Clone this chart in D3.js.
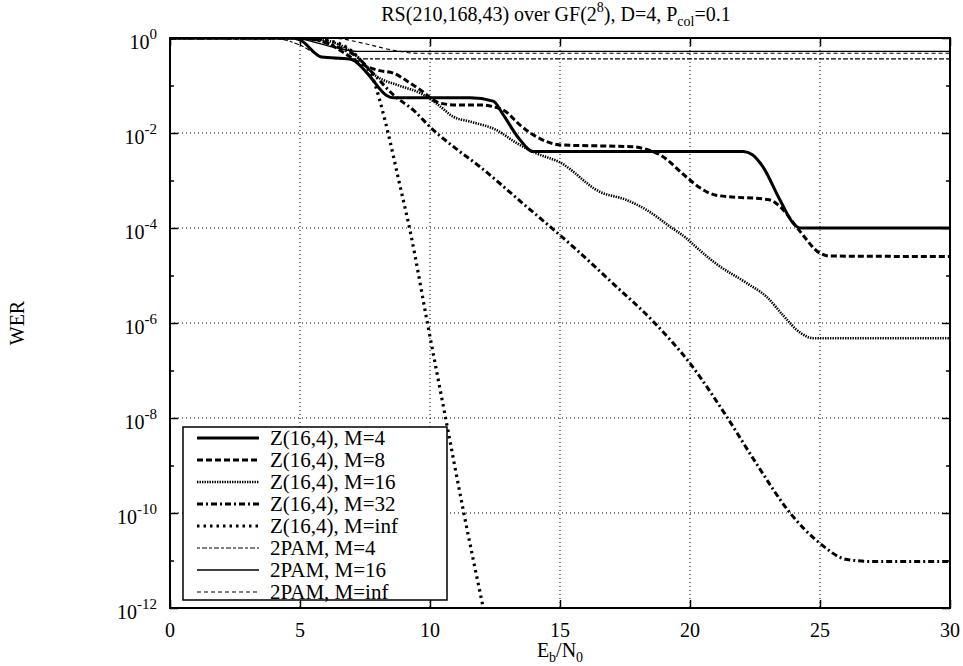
<!DOCTYPE html>
<html>
<head>
<meta charset="utf-8">
<script src="https://cdn.jsdelivr.net/npm/d3@7"></script>
<style>
  body { margin: 0; background: #fff; }
  svg text { font-family: "Liberation Serif", "DejaVu Serif", serif; fill: #000; }
</style>
</head>
<body>
<script>
// tick values
var xTicks = [0, 5, 10, 15, 20, 25, 30];
var yMajor = [1, 1e-2, 1e-4, 1e-6, 1e-8, 1e-10, 1e-12];
var yMajorExp = ["0", "-2", "-4", "-6", "-8", "-10", "-12"];
var yMinor = [1e-1, 1e-3, 1e-5, 1e-7, 1e-9, 1e-11];

// Z(16,4), M=4
var z4X = [0, 4.7, 5, 5.83, 6.9, 7.1, 7.6, 8.33, 8.6, 11.54, 12.43, 12.8, 13.4, 13.97, 22.05, 22.4, 22.8, 23.46, 23.97, 24.23, 30];
var z4Y = [1, 1, 0.912, 0.398, 0.363, 0.331, 0.178, 0.0617, 0.055, 0.055, 0.0468, 0.0251, 0.00794, 0.00407, 0.00407, 0.00347, 0.00195, 3.89e-4, 1.26e-4, 1e-4, 1e-4];
// Z(16,4), M=8
var z8X = [0, 5, 6, 6.8, 7.31, 8, 8.59, 9.1, 9.62, 10.38, 11, 11.92, 12.82, 13.5, 14.1, 15, 17.8, 18.3, 18.85, 19.87, 20.4, 21, 23.08, 23.46, 24.2, 25, 25.38, 30];
var z8Y = [1, 1, 0.794, 0.447, 0.295, 0.209, 0.182, 0.126, 0.0813, 0.0427, 0.0389, 0.0389, 0.0302, 0.0141, 0.00832, 0.00562, 0.00513, 0.00457, 0.00347, 0.00117, 6.92e-4, 4.9e-4, 3.89e-4, 2.82e-4, 8.91e-5, 2.95e-5, 2.57e-5, 2.51e-5];
// Z(16,4), M=16
var z16X = [0, 5, 6, 7, 7.95, 8.8, 9.62, 10.3, 10.9, 11.54, 12.56, 13.3, 14.1, 15, 16.54, 17.56, 18.33, 19.23, 19.87, 20.13, 21, 22.18, 22.95, 23.6, 24.23, 24.74, 30];
var z16Y = [1, 1, 0.891, 0.501, 0.155, 0.1, 0.0692, 0.0398, 0.0219, 0.0174, 0.0115, 0.00631, 0.00372, 0.0024, 5.75e-4, 3.89e-4, 2.4e-4, 1.07e-4, 6.03e-5, 4.47e-5, 1.78e-5, 6.92e-6, 3.55e-6, 1.41e-6, 6.31e-7, 4.79e-7, 4.79e-7];
// Z(16,4), M=32
var z32X = [0, 5, 5.5, 6.5, 7.2, 7.8, 8.6, 9.36, 10.13, 11, 11.92, 13.5, 15.64, 17, 18.59, 20, 21.41, 22.6, 23.85, 25, 26.03, 27, 30];
var z32Y = [1, 1, 0.933, 0.631, 0.398, 0.182, 0.0631, 0.0302, 0.0115, 0.00468, 0.00195, 3.55e-4, 3.47e-5, 7.08e-6, 1.07e-6, 1.41e-7, 1.07e-8, 1e-9, 1e-10, 2.29e-11, 1.05e-11, 9.55e-12, 9.55e-12];
// Z(16,4), M=inf
var zInfX = [0, 5, 6, 6.8, 7.3, 7.8, 8.3, 8.8, 9.25, 9.9, 10.6, 11.3, 12.05];
var zInfY = [1, 1, 0.891, 0.631, 0.355, 0.141, 0.0158, 0.001, 7.94e-5, 1e-6, 1e-8, 1e-10, 1e-12];
// 2PAM
var p4X = [0, 3.5, 4.2, 5, 5.8, 6.5, 30];
var p4Y = [1, 1, 0.955, 0.708, 0.417, 0.363, 0.363];
var p16X = [0, 4.8, 5.5, 6.5, 7.2, 30];
var p16Y = [1, 1, 0.832, 0.603, 0.525, 0.525];
var pInfX = [0, 6, 6.6, 7.5, 8.6, 9.5, 30];
var pInfY = [1, 1, 0.955, 0.759, 0.55, 0.479, 0.479];

var labels = ["Z(16,4), M=4", "Z(16,4), M=8", "Z(16,4), M=16", "Z(16,4), M=32",
              "Z(16,4), M=inf", "2PAM, M=4", "2PAM, M=16", "2PAM, M=inf"];

var styles = [
  {w: 3, dash: null},
  {w: 3, dash: "6,3"},
  {w: 2.6, dash: "1.4,1.1"},
  {w: 3, dash: "6,3,2,3"},
  {w: 3.2, dash: "2.5,4"},
  {w: 1.1, dash: "3,2,5,2"},
  {w: 1.3, dash: null},
  {w: 1.1, dash: "4,3"}
];

var xs = [z4X, z8X, z16X, z32X, zInfX, p4X, p16X, pInfX];
var ys = [z4Y, z8Y, z16Y, z32Y, zInfY, p4Y, p16Y, pInfY];
var series = labels.map(function(l, i) {
  return {label: l, style: styles[i], pts: xs[i].map(function(x, j) { return [x, ys[i][j]]; })};
});

var W = 963, H = 666;
var mL = 170, mR = 950, mT = 38, mB = 608;

var svg = d3.select("body").append("svg")
    .attr("width", W)
    .attr("height", H);

var x = d3.scaleLinear().domain([0, 30]).range([mL, mR]);
var y = d3.scaleLog().domain([1, 1e-12]).range([mT, mB]);

// grid
var grid = svg.append("g").attr("stroke", "#000").attr("stroke-width", 1).attr("stroke-dasharray", "1,3");
grid.selectAll("line.gx").data(xTicks.slice(1, -1)).enter().append("line")
    .attr("x1", function(d) { return x(d); }).attr("x2", function(d) { return x(d); })
    .attr("y1", mT).attr("y2", mB);
grid.selectAll("line.gy").data(yMajor.slice(1, -1)).enter().append("line")
    .attr("y1", function(d) { return y(d); }).attr("y2", function(d) { return y(d); })
    .attr("x1", mL).attr("x2", mR);

// axes with inward ticks
function noDomain(g) { g.select(".domain").remove(); }
svg.append("g").attr("transform", "translate(0," + mB + ")")
    .call(d3.axisBottom(x).tickValues(xTicks).tickSize(-8).tickFormat("")).call(noDomain);
svg.append("g").attr("transform", "translate(0," + mT + ")")
    .call(d3.axisTop(x).tickValues(xTicks).tickSize(-8).tickFormat("")).call(noDomain);
svg.append("g").attr("transform", "translate(" + mL + ",0)")
    .call(d3.axisLeft(y).tickValues(yMajor).tickSize(-8).tickFormat("")).call(noDomain);
svg.append("g").attr("transform", "translate(" + mR + ",0)")
    .call(d3.axisRight(y).tickValues(yMajor).tickSize(-8).tickFormat("")).call(noDomain);
svg.append("g").attr("transform", "translate(" + mL + ",0)")
    .call(d3.axisLeft(y).tickValues(yMinor).tickSize(-4).tickFormat("")).call(noDomain);
svg.append("g").attr("transform", "translate(" + mR + ",0)")
    .call(d3.axisRight(y).tickValues(yMinor).tickSize(-4).tickFormat("")).call(noDomain);
svg.selectAll(".tick line").attr("stroke", "#000").attr("stroke-width", 1.5);

// x tick labels
svg.selectAll("text.xt").data(xTicks).enter().append("text")
    .attr("x", function(d) { return x(d); })
    .attr("y", mB + 29)
    .attr("text-anchor", "middle")
    .style("font-size", "20px")
    .text(function(d) { return d; });

// y tick labels 10^n
var yl = svg.selectAll("text.yt").data(yMajor).enter().append("text")
    .attr("x", mL - 13)
    .attr("y", function(d) { return y(d) + 11; })
    .attr("text-anchor", "end")
    .style("font-size", "20px");
yl.append("tspan").text("10");
yl.append("tspan").attr("dy", -10).style("font-size", "15px")
    .text(function(d, i) { return yMajorExp[i]; });

// axis titles
var xl = svg.append("text").attr("x", x(15)).attr("y", 657)
    .attr("text-anchor", "middle").style("font-size", "20px");
xl.append("tspan").text("E");
xl.append("tspan").attr("dy", 5).style("font-size", "14px").text("b");
xl.append("tspan").attr("dy", -5).text("/N");
xl.append("tspan").attr("dy", 5).style("font-size", "14px").text("0");

svg.append("text")
    .attr("transform", "translate(24," + (mT + mB) / 2 + ") rotate(-90)")
    .attr("text-anchor", "middle")
    .style("font-size", "20px")
    .text("WER");

// title
var t = svg.append("text").attr("x", 556).attr("y", 21)
    .attr("text-anchor", "middle").style("font-size", "20px");
t.append("tspan").text("RS(210,168,43) over GF(2");
t.append("tspan").attr("dy", -9).style("font-size", "14px").text("8");
t.append("tspan").attr("dy", 9).text("), D=4, P");
t.append("tspan").attr("dy", 5).style("font-size", "14px").text("col");
t.append("tspan").attr("dy", -5).text("=0.1");

// curves
svg.append("clipPath").attr("id", "clip").append("rect")
    .attr("x", mL).attr("y", mT).attr("width", mR - mL).attr("height", mB - mT);

var line = d3.line()
    .x(function(d) { return x(d[0]); })
    .y(function(d) { return y(d[1]); })
    .curve(d3.curveMonotoneX);

svg.append("g").attr("clip-path", "url(#clip)")
    .selectAll("path").data(series.slice().reverse()).enter().append("path")
    .attr("d", function(d) { return line(d.pts); })
    .attr("fill", "none")
    .attr("stroke", "#000")
    .attr("stroke-width", function(d) { return d.style.w; })
    .attr("stroke-dasharray", function(d) { return d.style.dash; });

// frame
svg.append("rect").attr("x", mL).attr("y", mT)
    .attr("width", mR - mL).attr("height", mB - mT)
    .attr("fill", "none").attr("stroke", "#000").attr("stroke-width", 2);

// legend
var lg = svg.append("g").attr("transform", "translate(183,427)");
lg.append("rect").attr("width", 264).attr("height", 173)
    .attr("fill", "#fff").attr("stroke", "#000").attr("stroke-width", 1.5);
var row = lg.selectAll("g.row").data(series).enter().append("g")
    .attr("transform", function(d, i) { return "translate(0," + (11 + i * 22) + ")"; });
row.append("line").attr("x1", 14).attr("x2", 76)
    .attr("stroke", "#000")
    .attr("stroke-width", function(d) { return d.style.w; })
    .attr("stroke-dasharray", function(d) { return d.style.dash; });
row.append("text").attr("x", 87).attr("y", 7)
    .style("font-size", "21px")
    .text(function(d) { return d.label; });
</script>
</body>
</html>
